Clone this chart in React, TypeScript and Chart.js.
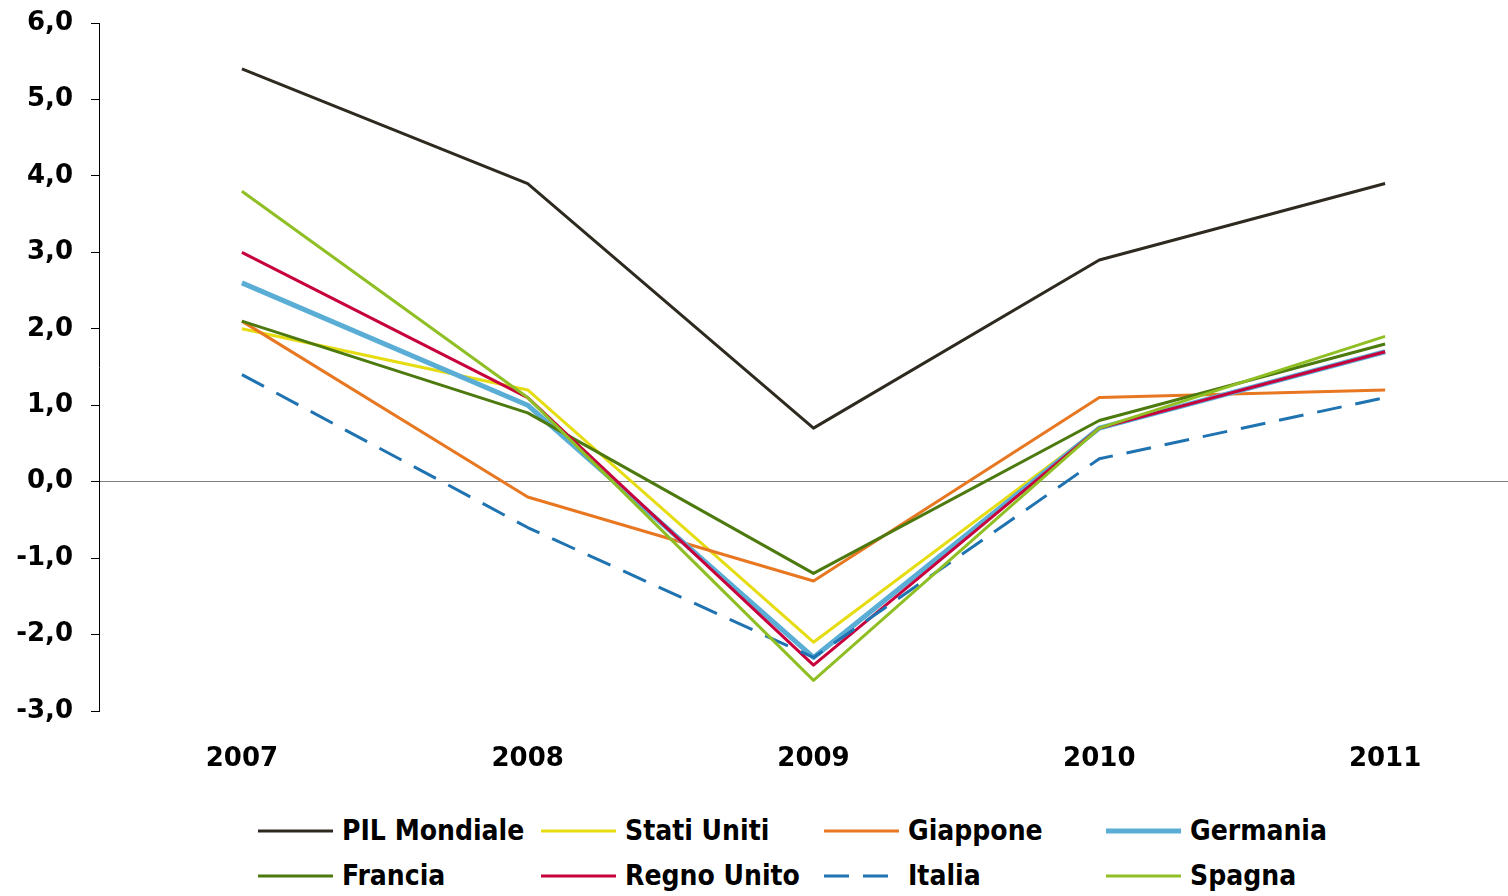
import React, { useEffect, useRef } from 'react';
import { Chart, registerables } from 'chart.js';

Chart.register(...registerables);

const years = ['2007', '2008', '2009', '2010', '2011'];
const pilMondiale = [5.4, 3.9, 0.7, 2.9, 3.9];
const statiUniti = [2.0, 1.2, -2.1, 0.7, 1.7];
const giappone = [2.1, -0.2, -1.3, 1.1, 1.2];
const germania = [2.6, 1.0, -2.3, 0.7, 1.7];
const francia = [2.1, 0.9, -1.2, 0.8, 1.8];
const regnoUnito = [3.0, 1.1, -2.4, 0.7, 1.7];
const italia = [1.4, -0.6, -2.3, 0.3, 1.1];
const spagna = [3.8, 1.1, -2.6, 0.7, 1.9];

const seriesNames = ['PIL Mondiale', 'Stati Uniti', 'Giappone', 'Germania', 'Francia', 'Regno Unito', 'Italia', 'Spagna'];
const seriesValues = [pilMondiale, statiUniti, giappone, germania, francia, regnoUnito, italia, spagna];
const seriesColors = ['#2e2a20', '#e6dc12', '#e87722', '#5aaed6', '#4d7a0f', '#c8003c', '#1f73b0', '#8fbf24'];
const seriesWidths = [3, 3, 3, 5, 3, 3, 3, 3];
const seriesDashes: number[][] = [[], [], [], [], [], [], [25, 14], []];

const yMin = -3;
const yMax = 6;
const yStep = 1;

const legendCols = [258, 541, 824, 1106];
const legendRows = [831, 876];

export default function App() {
  const canvasRef = useRef<HTMLCanvasElement | null>(null);

  useEffect(() => {
    if (!canvasRef.current) return;
    const tickFont = { family: "'DejaVu Sans', sans-serif", size: 26, weight: 'bold' as const };
    const chart = new Chart(canvasRef.current, {
      type: 'line',
      data: {
        labels: years,
        datasets: seriesNames.map((name, i) => ({
          label: name,
          data: seriesValues[i],
          borderColor: seriesColors[i],
          backgroundColor: seriesColors[i],
          borderWidth: seriesWidths[i],
          borderDash: seriesDashes[i],
          borderJoinStyle: 'round' as const,
          pointRadius: 0,
          pointHoverRadius: 0,
          tension: 0,
          fill: false,
          order: seriesNames.length - i,
        })),
      },
      options: {
        responsive: false,
        animation: false,
        devicePixelRatio: 1,
        layout: { padding: { top: 23, right: 2, bottom: 27, left: 0 } },
        plugins: {
          legend: { display: false },
          tooltip: { enabled: false },
        },
        scales: {
          x: {
            type: 'category',
            offset: true,
            grid: { display: false, drawTicks: false },
            border: { display: false },
            ticks: { color: '#000', font: tickFont, padding: 33, maxRotation: 0 },
            afterFit: (scale: any) => {
              scale.height = 62;
              scale.paddingLeft = 0;
              scale.paddingRight = 0;
            },
          },
          y: {
            min: yMin,
            max: yMax,
            grid: {
              display: true,
              drawOnChartArea: true,
              drawTicks: true,
              tickLength: 8,
              tickColor: '#000',
              lineWidth: 1,
              color: (ctx: any) => (ctx.tick && ctx.tick.value === 0 ? '#808080' : 'rgba(0,0,0,0)'),
            },
            border: { display: true, color: '#000', width: 1 },
            ticks: {
              stepSize: yStep,
              color: '#000',
              font: tickFont,
              padding: 18,
              callback: (v: any) => Number(v).toFixed(1).replace('.', ','),
            },
            afterFit: (scale: any) => {
              scale.width = 99;
              scale.paddingTop = 0;
              scale.paddingBottom = 0;
            },
          },
        },
      },
    });
    return () => chart.destroy();
  }, []);

  return (
    <div
      style={{
        position: 'fixed',
        left: 0,
        top: 0,
        width: 1508,
        height: 896,
        overflow: 'hidden',
        background: '#fff',
      }}
    >
      <canvas
        ref={canvasRef}
        width={1530}
        height={800}
        style={{ position: 'absolute', left: 0, top: 0, width: 1530, height: 800 }}
      />
      {seriesNames.map((name, i) => {
        const col = i % 4;
        const row = Math.floor(i / 4);
        const left = legendCols[col];
        const cy = legendRows[row];
        return (
          <div
            key={name}
            style={{
              position: 'absolute',
              left,
              top: cy - 17,
              height: 34,
              display: 'flex',
              alignItems: 'center',
              whiteSpace: 'nowrap',
            }}
          >
            <svg width={75} height={10} style={{ display: 'block' }}>
              <line
                x1={0}
                y1={5}
                x2={75}
                y2={5}
                stroke={seriesColors[i]}
                strokeWidth={seriesWidths[i]}
                strokeDasharray={seriesDashes[i].length ? seriesDashes[i].join(' ') : undefined}
              />
            </svg>
            <span
              style={{
                marginLeft: 9,
                fontFamily: "'DejaVu Sans Condensed', 'DejaVu Sans', sans-serif",
                fontWeight: 'bold',
                fontSize: 28,
                lineHeight: '34px',
                color: '#000',
              }}
            >
              {name}
            </span>
          </div>
        );
      })}
    </div>
  );
}
